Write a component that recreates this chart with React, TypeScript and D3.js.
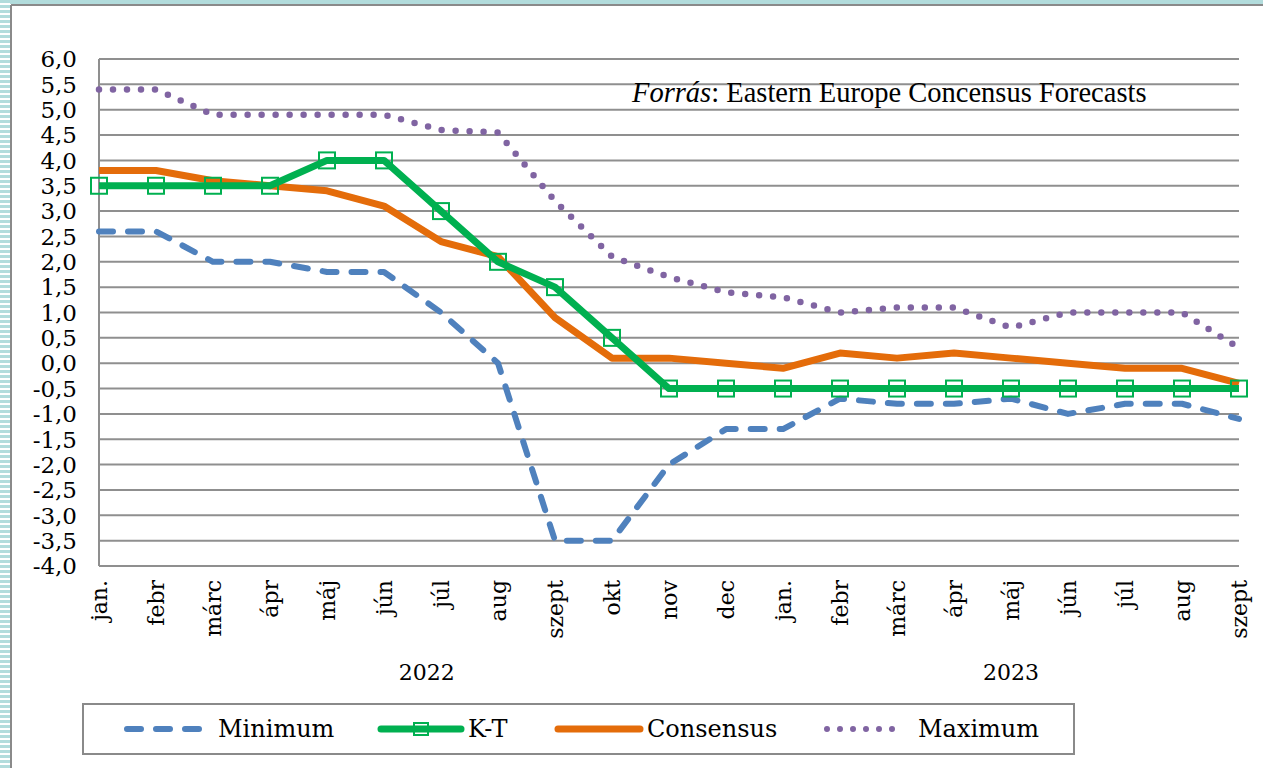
import { useEffect, useRef } from 'react';
import * as d3 from 'd3';

// havi címkék (2022 jan. – 2023 szept)
const months = ['jan.', 'febr', 'márc', 'ápr', 'máj', 'jún', 'júl', 'aug', 'szept', 'okt', 'nov', 'dec',
  'jan.', 'febr', 'márc', 'ápr', 'máj', 'jún', 'júl', 'aug', 'szept'];
const years = ['2022', '2023'];
const yearStart = [0, 12];
const yearEnd = [11, 20];

const minimum = [2.6, 2.6, 2.0, 2.0, 1.8, 1.8, 1.0, 0.0, -3.5, -3.5, -2.0, -1.3, -1.3, -0.7, -0.8, -0.8, -0.7, -1.0, -0.8, -0.8, -1.1];
const kt = [3.5, 3.5, 3.5, 3.5, 4.0, 4.0, 3.0, 2.0, 1.5, 0.5, -0.5, -0.5, -0.5, -0.5, -0.5, -0.5, -0.5, -0.5, -0.5, -0.5, -0.5];
const consensus = [3.8, 3.8, 3.6, 3.5, 3.4, 3.1, 2.4, 2.1, 0.9, 0.1, 0.1, 0.0, -0.1, 0.2, 0.1, 0.2, 0.1, 0.0, -0.1, -0.1, -0.4];
const maximum = [5.4, 5.4, 4.9, 4.9, 4.9, 4.9, 4.6, 4.55, 3.2, 2.1, 1.7, 1.4, 1.3, 1.0, 1.1, 1.1, 0.7, 1.0, 1.0, 1.0, 0.3];

const yTicks = d3.range(-4, 6.001, 0.5);

const BLUE = '#4f81bd';
const GREEN = '#00b050';
const ORANGE = '#e46c0a';
const PURPLE = '#8064a2';
const GRID = '#8f8f8f';
const AXIS_FONT = '"DejaVu Serif", serif';

export default function App() {
  const svgRef = useRef<SVGSVGElement>(null);

  useEffect(() => {
    const W = 1263, H = 768;
    const svg = d3.select(svgRef.current);
    svg.selectAll('*').remove();
    svg.attr('width', W).attr('height', H);

    // ── keret, csíkos bal szél ─────────────────────
    const defs = svg.append('defs');
    const pat = defs.append('pattern').attr('id', 'stripes')
      .attr('width', 12).attr('height', 5).attr('patternUnits', 'userSpaceOnUse');
    pat.append('rect').attr('width', 12).attr('height', 3).attr('fill', '#b2dcdc');

    svg.append('rect').attr('width', W).attr('height', H).attr('fill', '#fff');
    svg.append('rect').attr('x', 0).attr('y', 0).attr('width', 10).attr('height', H).attr('fill', 'url(#stripes)');
    svg.append('rect').attr('x', 10).attr('y', 0).attr('width', W - 10).attr('height', 4).attr('fill', '#b2dcdc');
    svg.append('line').attr('x1', 11).attr('x2', W).attr('y1', 5).attr('y2', 5).attr('stroke', '#8a8a8a').attr('stroke-width', 2);
    svg.append('line').attr('x1', 11).attr('x2', 11).attr('y1', 5).attr('y2', H).attr('stroke', '#8a8a8a').attr('stroke-width', 2);

    // ── skálák ──────────────────────────────────────
    const x = d3.scaleLinear().domain([0, months.length - 1]).range([99, 1239]);
    const y = d3.scaleLinear().domain([-4, 6]).range([566, 59]);

    // rácsvonalak
    svg.append('g').selectAll('line').data(yTicks).join('line')
      .attr('x1', x(0)).attr('x2', x(months.length - 1))
      .attr('y1', d => y(d)).attr('y2', d => y(d))
      .attr('stroke', GRID).attr('stroke-width', 2);
    svg.append('line').attr('x1', x(0)).attr('x2', x(0)).attr('y1', y(6)).attr('y2', y(-4))
      .attr('stroke', GRID).attr('stroke-width', 2);

    // y címkék
    svg.append('g').selectAll('text').data(yTicks).join('text')
      .attr('x', 77).attr('y', d => y(d)).attr('dy', '0.36em')
      .attr('text-anchor', 'end').attr('font-family', AXIS_FONT).attr('font-size', 23).attr('fill', '#000')
      .text(d => d3.format('.1f')(d).replace('.', ',').replace('−', '-'));

    // x címkék (függőleges)
    svg.append('g').selectAll('text').data(months).join('text')
      .attr('transform', (d, i) => `translate(${x(i) + 8},580) rotate(-90)`)
      .attr('text-anchor', 'end').attr('font-family', AXIS_FONT).attr('font-size', 22).attr('fill', '#000')
      .text(d => d);

    // évek
    svg.append('g').selectAll('text').data(years).join('text')
      .attr('x', (d, i) => x((Math.max(yearStart[i] - 0.5, 0) + yearEnd[i] + 0.5) / 2))
      .attr('y', 680).attr('text-anchor', 'middle')
      .attr('font-family', AXIS_FONT).attr('font-size', 22).attr('fill', '#000')
      .text(d => d);

    // forrás
    const src = svg.append('text').attr('x', 632).attr('y', 102)
      .attr('font-family', '"Liberation Serif", serif').attr('font-size', 28.5).attr('fill', '#000');
    src.append('tspan').attr('font-style', 'italic').text('Forrás');
    src.append('tspan').text(': Eastern Europe Concensus Forecasts');

    // ── vonalak ─────────────────────────────────────
    const line = d3.line<number>().x((d, i) => x(i)).y(d => y(d));

    const series = [
      { data: minimum, color: BLUE, width: 6, dash: '14 15', cap: 'round' },
      { data: consensus, color: ORANGE, width: 7, dash: null, cap: 'butt' },
      { data: kt, color: GREEN, width: 7, dash: null, cap: 'butt' },
      { data: maximum, color: PURPLE, width: 6.5, dash: '0 14', cap: 'round' },
    ];
    series.forEach(s => {
      svg.append('path').attr('d', line(s.data)).attr('fill', 'none')
        .attr('stroke', s.color).attr('stroke-width', s.width)
        .attr('stroke-linejoin', 'round').attr('stroke-linecap', s.cap)
        .attr('stroke-dasharray', s.dash);
    });

    // K-T jelölők
    svg.append('g').selectAll('rect').data(kt).join('rect')
      .attr('x', (d, i) => x(i) - 8).attr('y', d => y(d) - 8)
      .attr('width', 16).attr('height', 16)
      .attr('fill', 'none').attr('stroke', GREEN).attr('stroke-width', 2);

    // ── jelmagyarázat ───────────────────────────────
    const lg = svg.append('g');
    lg.append('rect').attr('x', 83).attr('y', 704).attr('width', 991).attr('height', 50)
      .attr('fill', '#fff').attr('stroke', '#8a8a8a').attr('stroke-width', 2);
    const ly = 729;
    const items = [
      { name: 'Minimum', color: BLUE, width: 6, dash: '14 15', cap: 'round', x0: 127, x1: 200, tx: 218, marker: false },
      { name: 'K-T', color: GREEN, width: 7, dash: null, cap: 'round', x0: 381, x1: 461, tx: 468, marker: true },
      { name: 'Consensus', color: ORANGE, width: 7, dash: null, cap: 'round', x0: 558, x1: 640, tx: 647, marker: false },
      { name: 'Maximum', color: PURPLE, width: 6, dash: '0 13', cap: 'round', x0: 827, x1: 905, tx: 918, marker: false },
    ];
    items.forEach(it => {
      lg.append('line').attr('x1', it.x0).attr('x2', it.x1).attr('y1', ly).attr('y2', ly)
        .attr('stroke', it.color).attr('stroke-width', it.width)
        .attr('stroke-linecap', it.cap).attr('stroke-dasharray', it.dash);
      if (it.marker) {
        lg.append('rect').attr('x', (it.x0 + it.x1) / 2 - 7).attr('y', ly - 6).attr('width', 14).attr('height', 12)
          .attr('fill', 'none').attr('stroke', GREEN).attr('stroke-width', 2);
      }
      lg.append('text').attr('x', it.tx).attr('y', ly).attr('dy', '0.35em')
        .attr('font-family', AXIS_FONT).attr('font-size', 24).attr('fill', '#000')
        .text(it.name);
    });
  }, []);

  return <svg ref={svgRef} style={{ position: 'absolute', left: 0, top: 0, display: 'block' }} />;
}
